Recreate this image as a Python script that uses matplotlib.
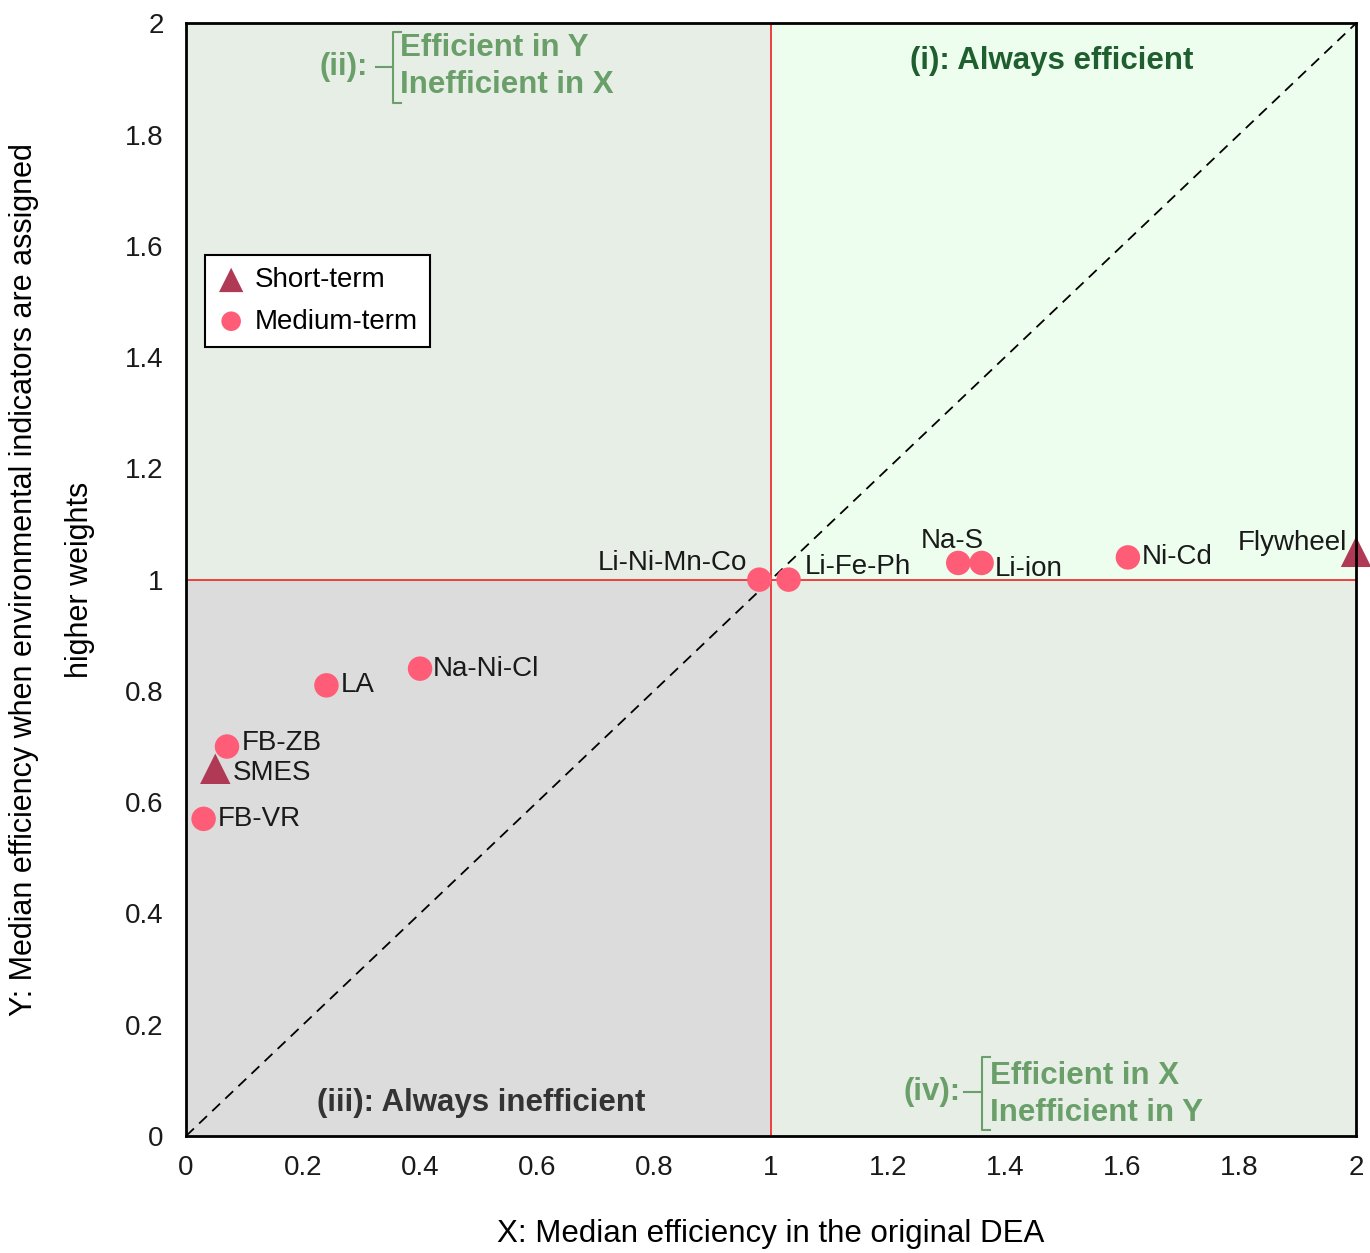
import matplotlib.pyplot as plt
from matplotlib.lines import Line2D

plt.rcParams['font.family'] = ['Liberation Sans', 'DejaVu Sans']

# medium-term technologies (circles)
med_names = ['Li-Ni-Mn-Co', 'Li-Fe-Ph', 'Na-S', 'Li-ion', 'Ni-Cd',
             'Na-Ni-Cl', 'LA', 'FB-ZB', 'FB-VR']
med_x = [0.98, 1.03, 1.32, 1.36, 1.61, 0.40, 0.24, 0.07, 0.03]
med_y = [1.00, 1.00, 1.03, 1.03, 1.04, 0.84, 0.81, 0.70, 0.57]

# short-term technologies (triangles)
short_names = ['Flywheel', 'SMES']
short_x = [2.00, 0.05]
short_y = [1.05, 0.66]

ticks = [0, 0.2, 0.4, 0.6, 0.8, 1, 1.2, 1.4, 1.6, 1.8, 2]
tick_labels = ['0', '0.2', '0.4', '0.6', '0.8', '1', '1.2', '1.4', '1.6', '1.8', '2']

fig = plt.figure(figsize=(13.7, 12.53), dpi=100)
ax = fig.add_axes([0.1358, 0.0934, 0.854, 0.888])

# quadrant backgrounds
ax.axvspan(0, 1, ymin=0.5, ymax=1, color='#e6eee6', zorder=0, lw=0)
ax.axvspan(1, 2, ymin=0.5, ymax=1, color='#eefeee', zorder=0, lw=0)
ax.axvspan(0, 1, ymin=0, ymax=0.5, color='#dcdcdc', zorder=0, lw=0)
ax.axvspan(1, 2, ymin=0, ymax=0.5, color='#e6eee6', zorder=0, lw=0)

ax.axvline(1, color='#ee2222', lw=1.2, zorder=1)
ax.axhline(1, color='#ee2222', lw=1.2, zorder=1)
ax.plot([0, 2], [0, 2], ls=(0, (6, 4)), color='black', lw=1.3, zorder=1)

ax.scatter(short_x, short_y, marker='^', s=480, color='#b03a55', zorder=3,
           clip_on=False, label='Short-term', edgecolors='none')
ax.scatter(med_x, med_y, marker='o', s=310, color='#ff5c77', zorder=3,
           clip_on=False, label='Medium-term', edgecolors='none')

fs = 20
lab = dict(fontsize=fs, color='#1a1a1a', zorder=4)
offsets = {
    'Li-Ni-Mn-Co': (-0.021, 0.03, 'right', 'center'),
    'Li-Fe-Ph': (0.028, 0.022, 'left', 'center'),
    'Na-S': (-0.01, 0.04, 'center', 'center'),
    'Li-ion': (0.022, -0.01, 'left', 'center'),
    'Ni-Cd': (0.024, 0.0, 'left', 'center'),
    'Na-Ni-Cl': (0.021, 0.0, 'left', 'center'),
    'LA': (0.025, 0.0, 'left', 'center'),
    'FB-ZB': (0.025, 0.006, 'left', 'center'),
    'FB-VR': (0.025, 0.0, 'left', 'center'),
    'Flywheel': (-0.015, 0.016, 'right', 'center'),
    'SMES': (0.03, -0.008, 'left', 'center'),
}
for n, x, y in zip(med_names + short_names, med_x + short_x, med_y + short_y):
    dx, dy, ha, va = offsets[n]
    ax.text(x + dx, y + dy, n, ha=ha, va=va, **lab)

# quadrant annotations
green = '#6a9f6a'
bfs = 22.5
ax.text(0.74, 0.966, '(i): Always efficient', transform=ax.transAxes,
        fontsize=bfs, fontweight='bold', color='#1f5f2f', ha='center', va='center')
ax.text(0.252, 0.03, '(iii): Always inefficient', transform=ax.transAxes,
        fontsize=bfs, fontweight='bold', color='#333333', ha='center', va='center')

ax.text(0.135, 0.961, '(ii):', transform=ax.transAxes, fontsize=bfs,
        fontweight='bold', color=green, ha='center', va='center')
ax.text(0.183, 0.978, 'Efficient in Y', transform=ax.transAxes, fontsize=bfs,
        fontweight='bold', color=green, ha='left', va='center')
ax.text(0.183, 0.945, 'Inefficient in X', transform=ax.transAxes, fontsize=bfs,
        fontweight='bold', color=green, ha='left', va='center')
ax.add_line(Line2D([0.162, 0.177], [0.961, 0.961], transform=ax.transAxes, color=green, lw=1.5))
ax.add_line(Line2D([0.184, 0.177, 0.177, 0.184], [0.992, 0.992, 0.928, 0.928],
                   transform=ax.transAxes, color=green, lw=1.5))

ax.text(0.638, 0.0395, '(iv):', transform=ax.transAxes, fontsize=bfs,
        fontweight='bold', color=green, ha='center', va='center')
ax.text(0.687, 0.054, 'Efficient in X', transform=ax.transAxes, fontsize=bfs,
        fontweight='bold', color=green, ha='left', va='center')
ax.text(0.687, 0.021, 'Inefficient in Y', transform=ax.transAxes, fontsize=bfs,
        fontweight='bold', color=green, ha='left', va='center')
ax.add_line(Line2D([0.665, 0.680], [0.0395, 0.0395], transform=ax.transAxes, color=green, lw=1.5))
ax.add_line(Line2D([0.687, 0.680, 0.680, 0.687], [0.071, 0.071, 0.005, 0.005],
                   transform=ax.transAxes, color=green, lw=1.5))

ax.set_xlim(0, 2)
ax.set_ylim(0, 2)
ax.set_xticks(ticks)
ax.set_xticklabels(tick_labels)
ax.set_yticks(ticks)
ax.set_yticklabels(tick_labels)
ax.tick_params(labelsize=fs, length=0, colors='#1a1a1a')
ax.tick_params(axis='y', pad=16)
ax.tick_params(axis='x', pad=14)
for s in ax.spines.values():
    s.set_linewidth(2)
    s.set_color('black')
    s.set_zorder(5)

ax.set_xlabel('X: Median efficiency in the original DEA', fontsize=22.5, labelpad=27)
ax.set_ylabel('Y: Median efficiency when environmental indicators are assigned\nhigher weights',
              fontsize=22, labelpad=22, linespacing=2.1)

leg = ax.legend(loc='upper left', bbox_to_anchor=(0.016, 0.792), fontsize=fs,
                frameon=True, fancybox=False, edgecolor='black', framealpha=1,
                handletextpad=0.35, borderpad=0.45, labelspacing=0.55,
                handlelength=1.0, markerscale=0.8, borderaxespad=0)
leg.get_frame().set_linewidth(1.5)

fig.savefig('out.png', dpi=100)
